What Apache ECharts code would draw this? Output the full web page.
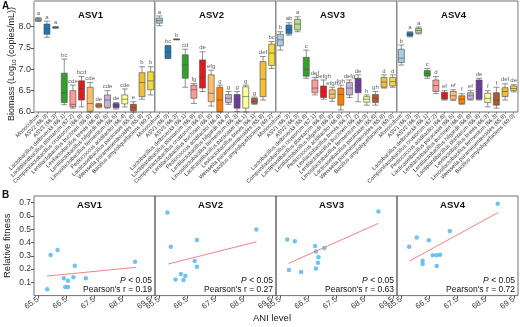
<!DOCTYPE html>
<html>
<head>
<meta charset="utf-8">
<script src="https://cdn.jsdelivr.net/npm/echarts@6/dist/echarts.min.js"></script>
<style>
html, body { margin: 0; padding: 0; background: #fff; }
#chart { width: 520px; height: 327px; }
</style>
</head>
<body>
<div id="chart"></div>
<script>
var FONT = 'Liberation Sans';

var facetNames = ['ASV1', 'ASV2', 'ASV3', 'ASV4'];

// Panel A: categories per facet
var labelsA1 = ['Monoculture', 'ASV2 (66.0)', 'ASV3 (66.3)', 'Lactobacillus delbrueckii (66.1)', 'Lactiplantibacillus plantarum (67.2)', 'Companilactobacillus crustorum (66.9)', 'Lentilactobacillus buchneri (66.6)', 'Levilactobacillus brevis (66.6)', 'Lentilactobacillus hilgardii (66.5)', 'Limosilactobacillus fermentum (66.5)', 'Pediococcus acidilactici (66.4)', 'Lacticaseibacillus paracasei (65.8)', 'Weissella paramesenteroides (65.9)', 'Bacillus amyloliquefaciens (69.2)'];
var labelsA2 = ['Monoculture', 'ASV1 (66.0)', 'ASV3 (66.3)', 'Lactobacillus delbrueckii (66.1)', 'Lactiplantibacillus plantarum (66.9)', 'Companilactobacillus crustorum (66.8)', 'Lentilactobacillus buchneri (66.8)', 'Pediococcus acidilactici (66.4)', 'Lentilactobacillus hilgardii (66.4)', 'Limosilactobacillus fermentum (66.3)', 'Lacticaseibacillus paracasei (66.1)', 'Levilactobacillus brevis (66.1)', 'Weissella paramesenteroides (65.9)', 'Bacillus amyloliquefaciens (69.2)'];
var labelsA3 = ['Monoculture', 'ASV1 (66.3)', 'ASV2 (66.3)', 'Lactobacillus delbrueckii (65.8)', 'Companilactobacillus crustorum (67.1)', 'Lactiplantibacillus plantarum (66.8)', 'Lentilactobacillus hilgardii (66.8)', 'Pediococcus acidilactici (66.8)', 'Levilactobacillus brevis (66.7)', 'Lentilactobacillus buchneri (66.2)', 'Limosilactobacillus fermentum (66.0)', 'Lacticaseibacillus paracasei (65.8)', 'Weissella paramesenteroides (65.8)', 'Bacillus amyloliquefaciens (69.0)'];
var labelsA4 = ['Monoculture', 'ASV1 (66.0)', 'ASV2 (66.3)', 'Lactobacillus delbrueckii (66.1)', 'Companilactobacillus crustorum (67.2)', 'Pediococcus acidilactici (66.6)', 'Lacticaseibacillus paracasei (66.5)', 'Lentilactobacillus buchneri (66.8)', 'Lentilactobacillus hilgardii (66.6)', 'Lactiplantibacillus plantarum (66.8)', 'Levilactobacillus brevis (66.3)', 'Limosilactobacillus fermentum (66.3)', 'Weissella paramesenteroides (65.8)', 'Bacillus amyloliquefaciens (69.0)'];

// boxes: [min, Q1, median, Q3, max]
var boxA1 = [[8.12,8.14,8.16,8.19,8.21],[7.75,7.82,7.95,8.06,8.13],[7.96,7.97,7.98,7.99,8.00],[6.17,6.22,6.45,6.91,7.24],[6.09,6.12,6.18,6.50,6.63],[6.12,6.28,6.55,6.73,6.83],[6.00,6.02,6.20,6.58,6.69],[6.10,6.12,6.15,6.18,6.20],[6.09,6.11,6.28,6.40,6.50],[6.07,6.10,6.15,6.20,6.22],[6.12,6.19,6.30,6.40,6.54],[6.00,6.03,6.10,6.18,6.24],[6.30,6.36,6.69,6.92,7.06],[6.40,6.52,6.73,6.94,7.06]];
var boxA2 = [[8.02,8.08,8.14,8.20,8.25],[7.25,7.26,7.40,7.55,7.56],[7.69,7.695,7.70,7.705,7.71],[6.58,6.79,7.10,7.34,7.47],[6.20,6.32,6.52,6.63,6.67],[6.48,6.56,6.81,7.22,7.41],[6.14,6.24,6.44,6.87,6.98],[6.00,6.01,6.28,6.58,6.63],[6.18,6.22,6.32,6.41,6.48],[6.01,6.09,6.30,6.41,6.48],[6.00,6.09,6.36,6.59,6.63],[6.18,6.20,6.25,6.32,6.35],[6.28,6.36,6.77,7.18,7.30],[7.02,7.09,7.38,7.59,7.65]];
var boxA3 = [[7.45,7.55,7.69,7.82,7.88],[7.80,7.83,7.93,8.04,8.09],[7.88,7.92,8.06,8.17,8.23],[6.79,6.84,7.00,7.28,7.45],[6.40,6.45,6.56,6.75,6.81],[6.30,6.34,6.48,6.61,6.75],[6.25,6.32,6.42,6.52,6.58],[6.05,6.16,6.41,6.56,6.63],[6.34,6.40,6.56,6.69,6.75],[6.24,6.45,6.61,6.79,6.87],[6.16,6.23,6.30,6.36,6.40],[6.16,6.22,6.32,6.41,6.48],[6.56,6.58,6.70,6.81,6.87],[6.58,6.61,6.71,6.81,6.87]];
var boxA4 = [[7.10,7.16,7.26,7.47,7.57],[7.76,7.78,7.82,7.86,7.88],[7.83,7.85,7.91,7.96,7.99],[6.79,6.84,6.90,6.97,7.02],[6.43,6.48,6.62,6.75,6.83],[6.28,6.30,6.38,6.46,6.50],[6.27,6.30,6.38,6.48,6.52],[6.18,6.20,6.30,6.38,6.43],[6.28,6.30,6.38,6.45,6.50],[6.28,6.30,6.52,6.75,6.79],[6.12,6.22,6.32,6.44,6.50],[6.09,6.16,6.28,6.45,6.58],[6.28,6.36,6.48,6.57,6.66],[6.47,6.50,6.55,6.61,6.64]];

var lettersA1 = ['a','a','a','bc','cde','bcd','cde','de','cde','de','cde','e','b','b'];
var lettersA2 = ['a','bc','b','cd','fg','de','efg','g','g','g','g','g','def','bc'];
var lettersA3 = ['b','ab','a','c','def','befgh','efgh','fgh','defg','de','h','gh','d','d'];
var lettersA4 = ['b','a','a','c','d','ef','ef','f','ef','de','f','f','def','de'];

var yTicksA = [6.0, 6.5, 7.0, 7.5, 8.0];

// Panel B: ANI level vs relative fitness
var aniB1 = [65.82, 65.94, 66.19, 66.41, 66.56, 66.46, 66.56, 66.75, 66.80, 67.19, 68.94];
var fitB1 = [0.047, 0.305, 0.343, 0.130, 0.112, 0.065, 0.065, 0.138, 0.225, 0.130, 0.255];
var aniB2 = [65.79, 65.91, 66.08, 66.27, 66.36, 66.43, 66.76, 66.84, 66.84, 68.95];
var fitB2 = [0.626, 0.368, 0.122, 0.162, 0.117, 0.147, 0.260, 0.418, 0.217, 0.498];
var aniB3 = [65.75, 66.02, 65.81, 66.24, 66.74, 66.77, 66.86, 66.84, 66.77, 67.07, 68.99];
var fitB3 = [0.423, 0.410, 0.192, 0.177, 0.373, 0.333, 0.288, 0.248, 0.205, 0.358, 0.634];
var aniB4 = [65.78, 66.05, 66.26, 66.26, 66.48, 66.62, 66.76, 66.88, 66.76, 67.23, 68.93];
var fitB4 = [0.368, 0.438, 0.262, 0.238, 0.416, 0.303, 0.303, 0.308, 0.223, 0.486, 0.691];

// fitted line end points
var lineBx = [[65.81, 68.98], [65.82, 68.95], [65.80, 68.99], [65.79, 68.95]];
var lineBy = [[0.147, 0.213], [0.238, 0.405], [0.243, 0.544], [0.260, 0.626]];
var pearsonR = ['0.19', '0.27', '0.63', '0.72'];

var xTicksB = [65.5, 66.5, 67.5, 68.5, 69.5];
var yTicksB = [0.1, 0.2, 0.3, 0.4, 0.5, 0.6, 0.7];

var boxColors = ['#a6cee3','#1f78b4','#b2df8a','#33a02c','#fb9a99','#e31a1c','#fdbf6f','#ff7f00','#cab2d6','#6a3d9a','#ffff99','#b15928','#f2be3a','#f5da3c'];

var labelsA = [labelsA1, labelsA2, labelsA3, labelsA4];
var boxesA = [boxA1, boxA2, boxA3, boxA4];
var lettersA = [lettersA1, lettersA2, lettersA3, lettersA4];
var aniB = [aniB1, aniB2, aniB3, aniB4];
var fitB = [fitB1, fitB2, fitB3, fitB4];

var facetLeft = [34, 155, 276, 397];
var facetW = 121;
var topA = 1, heightA = 111;
var topB = 196, heightB = 99.6;

var chart = echarts.init(document.getElementById('chart'));

var grids = [], xAxes = [], yAxes = [], series = [], graphics = [];

function fmt1(v) { return v.toFixed(1); }

for (var i = 0; i < 4; i++)
{
	grids.push({ left: facetLeft[i], top: topA, width: facetW, height: heightA, show: true,
		borderColor: '#4d4d4d', borderWidth: 0.8, outerBoundsMode: 'none' });
}
for (var i = 0; i < 4; i++)
{
	grids.push({ left: facetLeft[i], top: topB, width: facetW, height: heightB, show: true,
		borderColor: '#4d4d4d', borderWidth: 0.8, outerBoundsMode: 'none' });
}

// panel A axes + series
for (var i = 0; i < 4; i++)
{
	xAxes.push({
		type: 'category', gridIndex: i, data: labelsA[i], boundaryGap: true,
		axisLine: { show: false },
		axisTick: { show: true, alignWithLabel: true, length: 2, lineStyle: { color: '#555', width: 0.6 } },
		axisLabel: { interval: 0, rotate: 45, fontSize: 5.6, margin: 3, color: '#333', fontFamily: FONT },
		splitLine: { show: true, interval: function(idx) { return idx === 12; }, lineStyle: { color: '#c8c8c8', width: 0.7 } }
	});
	yAxes.push({
		type: 'value', gridIndex: i, min: 6, max: 8.6,
		axisLine: { show: false }, splitLine: { show: false },
		axisTick: { show: i === 0, length: 3, customValues: yTicksA, lineStyle: { color: '#555' } },
		axisLabel: { show: i === 0, customValues: yTicksA, formatter: fmt1, fontSize: 9, margin: 3, color: '#333', fontFamily: FONT }
	});

	(function(fi)
	{
		series.push({
			type: 'boxplot', xAxisIndex: fi, yAxisIndex: fi,
			boxWidth: [6, 6],
			itemStyle: { borderColor: '#4a4a4a', borderWidth: 0.6 },
			emphasis: { disabled: true },
			silent: true,
			data: boxesA[fi].map(function(b, j) { return { value: b, itemStyle: { color: boxColors[j] } }; })
		});
		series.push({
			type: 'scatter', xAxisIndex: fi, yAxisIndex: fi, symbolSize: 0, silent: true,
			data: boxesA[fi].map(function(b, j) { return [j, b[4]]; }),
			label: { show: true, position: 'top', distance: 1, fontSize: 6, color: '#333', fontFamily: FONT,
				formatter: function(p) { return lettersA[fi][p.dataIndex]; } }
		});
	})(i);
}

// panel B axes + series
for (var i = 0; i < 4; i++)
{
	var gi = 4 + i;
	xAxes.push({
		type: 'value', gridIndex: gi, min: 65.35, max: 69.65,
		axisLine: { show: false }, splitLine: { show: false },
		axisTick: { show: true, customValues: xTicksB, length: 3, lineStyle: { color: '#555' } },
		axisLabel: { customValues: xTicksB, rotate: 35, fontSize: 8, margin: 3, color: '#333', formatter: fmt1, fontFamily: FONT }
	});
	yAxes.push({
		type: 'value', gridIndex: gi, min: 0, max: 0.75,
		axisLine: { show: false }, splitLine: { show: false },
		axisTick: { show: i === 0, length: 3, customValues: yTicksB, lineStyle: { color: '#555' } },
		axisLabel: { show: i === 0, customValues: yTicksB, formatter: fmt1, fontSize: 8.5, margin: 3, color: '#333', fontFamily: FONT },
		name: i === 0 ? 'Relative fitness' : '',
		nameLocation: 'middle', nameGap: 22,
		nameTextStyle: { fontSize: 9.5, color: '#222', fontFamily: FONT }
	});

	var pts = aniB[i].map(function(a, k) { return [a, fitB[i][k]]; });
	series.push({
		type: 'scatter', xAxisIndex: gi, yAxisIndex: gi, symbolSize: 4.5, silent: true,
		itemStyle: { color: '#4db3ec' },
		data: pts
	});
	series.push({
		type: 'line', xAxisIndex: gi, yAxisIndex: gi, symbol: 'none', silent: true,
		lineStyle: { color: '#f08484', width: 1 },
		data: [[lineBx[i][0], lineBy[i][0]], [lineBx[i][1], lineBy[i][1]]]
	});

	var cx = facetLeft[i] + facetW / 2 - 5;
	graphics.push({ type: 'text', x: cx, y: topB + 9, style: { text: facetNames[i], font: 'bold 9.5px "Liberation Sans"', fill: '#111', align: 'center', verticalAlign: 'middle' } });
	graphics.push({ type: 'text', x: cx + 1, y: topA + 14, style: { text: facetNames[i], font: 'bold 9.5px "Liberation Sans"', fill: '#111', align: 'center', verticalAlign: 'middle' } });

	var rx = facetLeft[i] + facetW - 3;
	graphics.push({ type: 'text', x: rx, y: 280.5, style: {
		text: '{i|P} < 0.05', align: 'right', verticalAlign: 'middle', fill: '#111', font: '8.5px "Liberation Sans"',
		rich: { i: { fontStyle: 'italic', fontSize: 8.5, fontFamily: FONT, fill: '#111' } } } });
	graphics.push({ type: 'text', x: rx, y: 289.5, style: {
		text: "Pearson's r = " + pearsonR[i], align: 'right', verticalAlign: 'middle', fill: '#111', font: '8.5px "Liberation Sans"' } });
}

// y axis title of panel A (rotated, sits a bit below the panel centre)
graphics.push({ type: 'text', x: 12, y: 64, rotation: Math.PI / 2, style: {
	text: 'Biomass (Log{sub|10} (copies/mL))', align: 'center', verticalAlign: 'middle', fill: '#222', font: '9px "Liberation Sans"',
	rich: { sub: { fontSize: 6, fontFamily: FONT, fill: '#222', verticalAlign: 'bottom', padding: [4, 0, 0, 0] } } } });

graphics.push({ type: 'text', x: 2, y: 6, style: { text: 'A', font: 'bold 10px "Liberation Sans"', fill: '#111', verticalAlign: 'middle' } });
graphics.push({ type: 'text', x: 2, y: 195, style: { text: 'B', font: 'bold 10px "Liberation Sans"', fill: '#111', verticalAlign: 'middle' } });
graphics.push({ type: 'text', x: 272, y: 318, style: { text: 'ANI level', font: '9.5px "Liberation Sans"', fill: '#222', align: 'center', verticalAlign: 'middle' } });

chart.setOption({
	backgroundColor: '#fff',
	animation: false,
	textStyle: { fontFamily: FONT },
	grid: grids,
	xAxis: xAxes,
	yAxis: yAxes,
	series: series,
	graphic: graphics
});
</script>
</body>
</html>
